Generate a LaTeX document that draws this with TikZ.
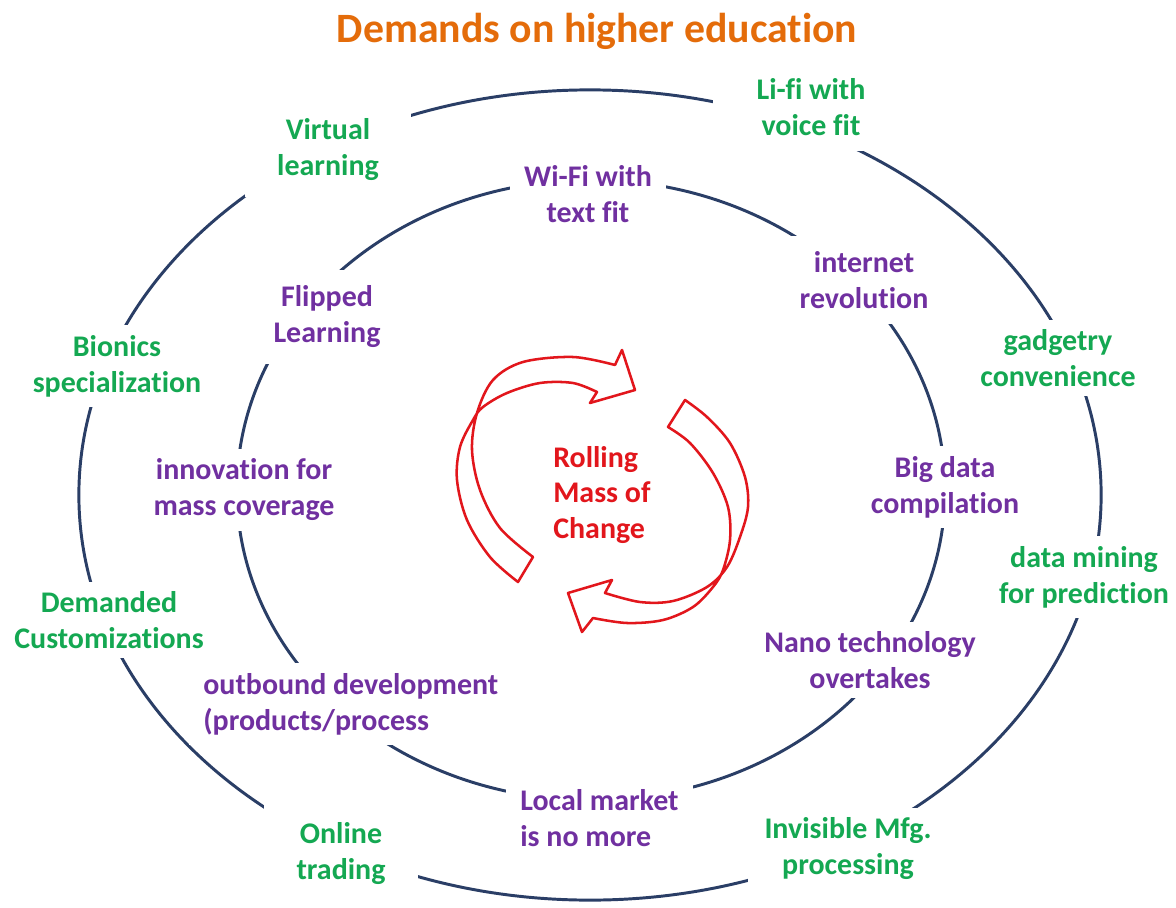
\documentclass[tikz,border=0pt]{standalone}
\usepackage{fontspec}
\setmainfont{Carlito}[Ligatures=NoCommon]
\definecolor{ringcol}{RGB}{42,62,102}
\definecolor{grn}{RGB}{20,168,82}
\definecolor{prp}{RGB}{112,48,160}
\definecolor{redc}{RGB}{226,22,28}
\definecolor{orng}{RGB}{228,108,10}
\begin{document}
\begin{tikzpicture}[x=0.025cm,y=-0.025cm,
  ring/.style={draw=ringcol, line width=2.1pt},
  lbl/.style={fill=white, inner xsep=10pt, inner ysep=7pt, font=\bfseries\fontsize{21.3}{25.6}\selectfont, align=center},
  grn/.style={lbl, text=grn},
  prp/.style={lbl, text=prp},
  redarrow/.style={draw=redc, line width=1.8pt, line join=round}]
\fill[white] (0,0) rectangle (1176,907);
\useasboundingbox (0,0) rectangle (1176,907);
% rings
\draw[ring] (590,495) ellipse [x radius=12.775cm, y radius=10.125cm];
\draw[ring] (591,490) ellipse [x radius=8.85cm, y radius=7.75cm];
% title
\node[font=\bfseries\fontsize{29.7}{34}\selectfont, text=orng] (title) at (597,31) {Demands on higher education};
% outer labels (green)
\node[grn, inner xsep=31pt, inner ysep=11pt] (lifi) at (811,107) {Li-fi with\\voice fit};
\node[grn, inner xsep=23pt, inner ysep=11pt] (virtual) at (328,150) {Virtual\\learning};
\node[grn] (gadget) at (1058,358) {gadgetry\\convenience};
\node[grn] (bionics) at (117,366) {Bionics\\specialization};
\node[grn] (mining) at (1084,577) {data mining\\for prediction};
\node[grn] (demanded) at (109,620) {Demanded\\Customizations};
\node[grn, inner xsep=23pt, inner ysep=13.5pt] (online) at (341,854) {Online\\trading};
\node[grn, inner xsep=12pt] (invisible) at (848,849) {Invisible Mfg.\\processing};
% inner labels (purple)
\node[prp] (wifi) at (588,194) {Wi-Fi with\\text fit};
\node[prp, inner ysep=11pt] (internet) at (864,280) {internet\\revolution};
\node[prp, inner ysep=11pt] (flipped) at (327,317) {Flipped\\Learning};
\node[prp] (innov) at (244,490) {innovation for\\mass coverage};
\node[prp] (bigdata) at (945,487) {Big data\\compilation};
\node[prp] (nano) at (870,660) {Nano technology\\overtakes};
\node[prp, align=left, anchor=west] (outbound) at (189,704) {outbound development\\(products/process};
\node[prp, align=left, anchor=west] (local) at (506,818) {Local market\\is no more};
% centre
\node[font=\bfseries\fontsize{21.3}{25}\selectfont, text=redc, align=left, anchor=west, inner sep=0pt] (rolling) at (553,495) {Rolling\\Mass of\\Change};
% red twisted arrows
\draw[redarrow] plot[smooth,tension=.55] coordinates {(615,365) (573,357) (523,362) (493,380) (477,413) (472,450) (480,490) (500,528) (533,557)}
  -- (518,582)
  -- plot[smooth,tension=.55] coordinates {(518,582) (490,557) (467,520) (457,480) (460,447) (473,420) (483,407) (507,393) (540,383) (573,383) (597,392)}
  -- (590,403) -- (635,390) -- (622,350) -- cycle;
\draw[redarrow] plot[smooth,tension=.55] coordinates {(685,400) (707,417) (730,443) (745,477) (748,507) (740,537) (727,567) (707,587) (673,601) (640,602) (605,593)}
  -- (612,580) -- (568,593) -- (582,632) -- (593,618)
  -- plot[smooth,tension=.55] coordinates {(593,618) (627,623) (663,620) (693,607) (713,587) (723,570) (730,540) (728,507) (713,473) (690,443) (668,427)}
  -- cycle;
\end{tikzpicture}
\end{document}
